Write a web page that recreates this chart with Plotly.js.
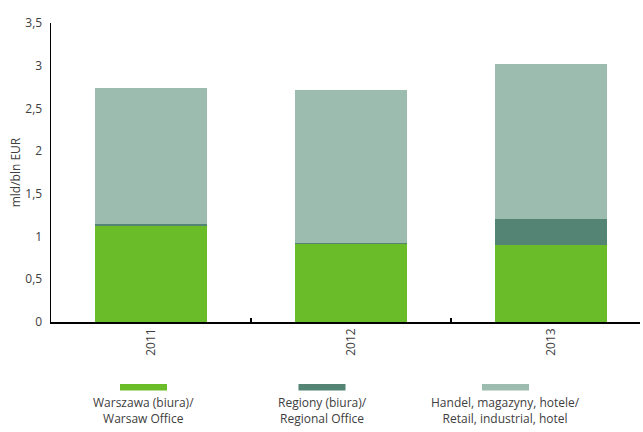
<!DOCTYPE html>
<html>
<head>
<meta charset="utf-8">
<script src="https://cdn.plot.ly/plotly-3.0.1.min.js"></script>
<style>html,body{margin:0;padding:0;background:#fff;}#chart{width:643px;height:432px;}</style>
</head>
<body>
<div id="chart"></div>
<script>
const years = ["2011", "2012", "2013"];
const warsaw = [1.12, 0.91, 0.90];
const regional = [0.025, 0.02, 0.30];
const retail = [1.595, 1.79, 1.82];
const seriesNames = ["Warszawa (biura)/<br>Warsaw Office", "Regiony (biura)/<br>Regional Office", "Handel, magazyny, hotele/<br>Retail, industrial, hotel"];
const seriesColors = ["#6abc29", "#548574", "#9dbcb0"];
const yTicks = [0, 0.5, 1, 1.5, 2, 2.5, 3, 3.5];

const W = 643, H = 432;
const M = {l: 51, r: 3, t: 23, b: 110};
const pw = W - M.l - M.r, ph = H - M.t - M.b;
const px = x => (x - M.l) / pw;
const py = y => (H - M.b - y) / ph;

const font = {family: "Open Sans, Noto Sans, sans-serif", size: 12, color: "#404040"};
const vals = [warsaw, regional, retail];
const traces = vals.map((v, i) => ({
  type: "bar", x: years, y: v, name: seriesNames[i],
  marker: {color: seriesColors[i], line: {width: 0}},
  width: 0.56, showlegend: false, hoverinfo: "skip"
}));

const legX = [143.5, 322, 505.5];
const shapes = legX.map((cx, i) => ({
  type: "rect", xref: "paper", yref: "paper",
  x0: px(cx - 23.5), x1: px(cx + 23.5), y0: py(390.5), y1: py(384),
  fillcolor: seriesColors[i], line: {width: 0}
}));
const annotations = legX.map((cx, i) => ({
  xref: "paper", yref: "paper", x: px(cx), y: py(410.5),
  xanchor: "center", yanchor: "middle", showarrow: false,
  text: seriesNames[i], font: font, align: "center"
}));

const layout = {
  width: W, height: H, margin: M,
  paper_bgcolor: "#fff", plot_bgcolor: "#fff",
  barmode: "stack", separators: ", ",
  font: font,
  xaxis: {
    type: "category", range: [-0.5, -0.5 + pw / 200],
    showline: true, linecolor: "#000", linewidth: 1.5,
    ticks: "inside", ticklen: 4, tickcolor: "#000", tickwidth: 1.5,
    tickson: "boundaries", tickangle: -90, showgrid: false, zeroline: false,
    tickfont: font
  },
  yaxis: {
    range: [0, 3.5], tickvals: yTicks, ticktext: yTicks.map(v => String(v).replace(".", ",")),
    showline: true, linecolor: "#000", linewidth: 1.5,
    ticks: "", showgrid: false, zeroline: false, ticklabelstandoff: 5,
    title: {text: "mld/bln EUR", font: font, standoff: 2},
    tickfont: font
  },
  shapes: shapes, annotations: annotations
};
Plotly.newPlot("chart", traces, layout, {staticPlot: true});
</script>
</body>
</html>
